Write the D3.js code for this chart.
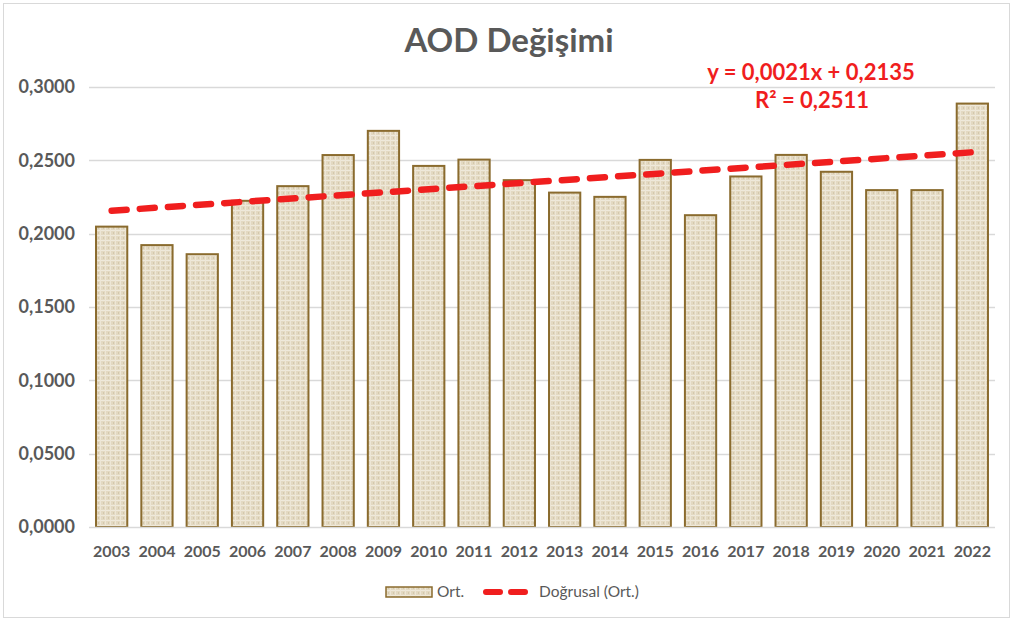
<!DOCTYPE html>
<html>
<head>
<meta charset="utf-8">
<script src="https://cdn.jsdelivr.net/npm/d3@7"></script>
<style>
  html, body { margin: 0; padding: 0; background: #ffffff; }
  svg { display: block; }
  text { font-family: Lato, "Open Sans", sans-serif; }
</style>
</head>
<body>
<svg id="chart" width="1017" height="623"></svg>
<script>
// Yearly mean AOD values
const years = ["2003","2004","2005","2006","2007","2008","2009","2010","2011","2012",
               "2013","2014","2015","2016","2017","2018","2019","2020","2021","2022"];
const aodMean = [0.2048, 0.1922, 0.1860, 0.2224, 0.2324, 0.2536, 0.2701, 0.2462, 0.2505, 0.2365,
                 0.2280, 0.2251, 0.2503, 0.2126, 0.2390, 0.2537, 0.2422, 0.2297, 0.2297, 0.2887];
const yTicks = [0, 0.05, 0.10, 0.15, 0.20, 0.25, 0.30];

// Linear trend (Excel "Doğrusal"): y = slope * x + intercept, x = 1..n
const trendSlope = 0.0021;
const trendIntercept = 0.2135;
const trendR2 = 0.2511;

const titleText = "AOD Değişimi";
const seriesName = "Ort.";
const trendName = "Doğrusal (Ort.)";

const fmtComma = (v, d) => v.toFixed(d).replace(".", ",");

const svg = d3.select("#chart");
const plot = { left: 89, right: 995, top: 87, bottom: 527 };

// outer chart border
svg.append("rect")
  .attr("x", 3.5).attr("y", 3.5)
  .attr("width", 1006).attr("height", 614)
  .attr("fill", "#ffffff")
  .attr("stroke", "#d9d9d9").attr("stroke-width", 1);

// linen-like texture for the bars
const defs = svg.append("defs");
const pat = defs.append("pattern")
  .attr("id", "linen")
  .attr("patternUnits", "userSpaceOnUse")
  .attr("width", 5).attr("height", 5);
pat.append("rect").attr("width", 5).attr("height", 5).attr("fill", "#e3d9c2");
pat.append("rect").attr("x", 0).attr("y", 0).attr("width", 5).attr("height", 1).attr("fill", "#efe9db");
pat.append("rect").attr("x", 0).attr("y", 0).attr("width", 1).attr("height", 5).attr("fill", "#ede6d6");
pat.append("rect").attr("x", 3).attr("y", 2).attr("width", 1).attr("height", 2).attr("fill", "#d4c8ad");

const x = d3.scaleBand()
  .domain(years)
  .range([plot.left, plot.right])
  .paddingInner(0.31)
  .paddingOuter(0.155);

const y = d3.scaleLinear()
  .domain([0, 0.30])
  .range([plot.bottom, plot.top]);

// horizontal gridlines
svg.append("g")
  .selectAll("line")
  .data(yTicks.filter(t => t > 0))
  .join("line")
  .attr("x1", plot.left).attr("x2", plot.right)
  .attr("y1", d => Math.round(y(d)) + 0.5)
  .attr("y2", d => Math.round(y(d)) + 0.5)
  .attr("stroke", "#d9d9d9").attr("stroke-width", 1.3);

// y axis labels
const yAxis = d3.axisLeft(y)
  .tickValues(yTicks)
  .tickFormat(d => fmtComma(d, 4))
  .tickSize(0)
  .tickPadding(14);
const gy = svg.append("g")
  .attr("transform", `translate(${plot.left},0)`)
  .call(yAxis);
gy.select(".domain").remove();
gy.selectAll("text")
  .attr("fill", "#595959")
  .style("font-family", "Lato, sans-serif")
  .style("font-size", "18px")
  .style("font-weight", "700");

// bars
svg.append("g")
  .selectAll("rect")
  .data(years.map((yr, i) => ({ yr, v: aodMean[i] })))
  .join("rect")
  .attr("x", d => x(d.yr))
  .attr("y", d => y(d.v))
  .attr("width", x.bandwidth())
  .attr("height", d => y(0) - y(d.v))
  .attr("fill", "url(#linen)")
  .attr("stroke", "#8a6b2e")
  .attr("stroke-width", 2);

// category axis line
svg.append("line")
  .attr("x1", plot.left).attr("x2", plot.right)
  .attr("y1", plot.bottom + 0.5).attr("y2", plot.bottom + 0.5)
  .attr("stroke", "#d9d9d9").attr("stroke-width", 1.3);

// x axis labels
const xAxis = d3.axisBottom(x).tickSize(0).tickPadding(19);
const gx = svg.append("g")
  .attr("transform", `translate(0,${plot.bottom})`)
  .call(xAxis);
gx.select(".domain").remove();
gx.selectAll("text")
  .attr("fill", "#595959")
  .style("font-family", "Lato, sans-serif")
  .style("font-size", "16px")
  .style("font-weight", "700");

// trend line from the regression equation
const trendPts = years.map((yr, i) => ({
  px: x(yr) + x.bandwidth() / 2,
  v: trendSlope * (i + 1) + trendIntercept
}));
const line = d3.line().x(d => d.px).y(d => y(d.v));
svg.append("path")
  .datum([trendPts[0], trendPts[trendPts.length - 1]])
  .attr("d", line)
  .attr("fill", "none")
  .attr("stroke", "#f01e1e")
  .attr("stroke-width", 6.5)
  .attr("stroke-linecap", "round")
  .attr("stroke-dasharray", "15,13.2");

// title
svg.append("text")
  .attr("x", 509).attr("y", 52)
  .attr("text-anchor", "middle")
  .attr("fill", "#595959")
  .style("font-size", "33px")
  .style("font-weight", "700")
  .text(titleText);

// equation and R²
svg.append("text")
  .attr("x", 811).attr("y", 80)
  .attr("text-anchor", "middle")
  .attr("fill", "#f01e1e")
  .style("font-size", "22px")
  .style("font-weight", "700")
  .text(`y = ${fmtComma(trendSlope, 4)}x + ${fmtComma(trendIntercept, 4)}`);
svg.append("text")
  .attr("x", 812).attr("y", 108)
  .attr("text-anchor", "middle")
  .attr("fill", "#f01e1e")
  .style("font-size", "22px")
  .style("font-weight", "700")
  .text(`R² = ${fmtComma(trendR2, 4)}`);

// legend
const lg = svg.append("g");
lg.append("rect")
  .attr("x", 386).attr("y", 587)
  .attr("width", 46).attr("height", 10)
  .attr("fill", "url(#linen)")
  .attr("stroke", "#8a6b2e").attr("stroke-width", 1.5);
lg.append("text")
  .attr("x", 437).attr("y", 597)
  .attr("fill", "#595959")
  .style("font-size", "15.5px")
  .text(seriesName);
lg.append("line")
  .attr("x1", 486).attr("x2", 525)
  .attr("y1", 592).attr("y2", 592)
  .attr("stroke", "#f01e1e")
  .attr("stroke-width", 6)
  .attr("stroke-linecap", "round")
  .attr("stroke-dasharray", "14,11");
lg.append("text")
  .attr("x", 539).attr("y", 597)
  .attr("fill", "#595959")
  .style("font-size", "15.5px")
  .text(trendName);
</script>
</body>
</html>
